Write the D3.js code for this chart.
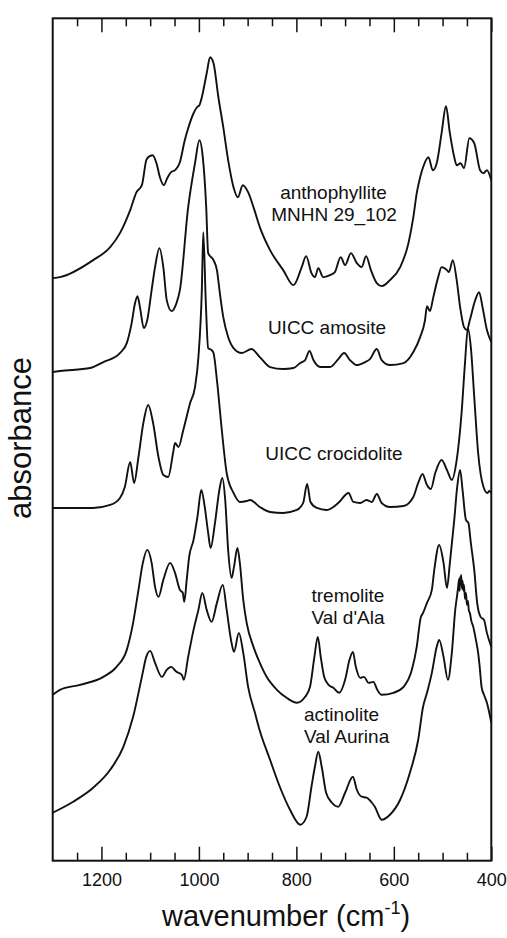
<!DOCTYPE html>
<html>
<head>
<meta charset="utf-8">
<script src="https://cdn.jsdelivr.net/npm/d3@7"></script>
<style>
  html, body { margin: 0; padding: 0; background: #fff; }
  svg { display: block; }
  text { font-family: "Liberation Sans", Arial, sans-serif; fill: #111; }
</style>
</head>
<body>
<svg id="chart" width="507" height="938"></svg>
<script>
// ---- data: [wavenumber (cm-1), absorbance (offset, arbitrary units)] ----
const anthophyllite = [
  [1300,5.83],[1285,5.84],[1217,6.01],[1182,6.14],[1162,6.28],[1141,6.51],[1128,6.69],[1117,6.76],
  [1108,7.01],[1104,7.04],[1095,7.06],[1087,6.98],[1080,6.84],[1072,6.76],[1065,6.83],[1057,6.89],
  [1049,6.91],[1039,6.99],[1029,7.21],[1022,7.33],[1011,7.48],[1004,7.54],[999,7.56],[994,7.64],
  [984,7.88],[977,8.04],[970,7.98],[960,7.64],[950,7.34],[940,7.01],[929,6.74],[920,6.64],
  [910,6.76],[899,6.69],[888,6.54],[875,6.34],[854,6.11],[827,5.91],[806,5.76],[789,5.94],
  [780,6.05],[769,5.88],[762,5.84],[755,5.93],[745,5.84],[731,5.86],[721,5.89],[709,6.04],
  [700,5.96],[688,6.08],[676,5.98],[666,5.94],[657,6.05],[647,5.91],[635,5.78],[625,5.75],
  [608,5.81],[587,5.94],[570,6.18],[560,6.44],[553,6.68],[546,6.84],[540,6.94],[529,7.04],
  [520,6.91],[512,6.98],[502,7.28],[493,7.55],[485,7.28],[476,7.04],[471,6.96],[463,6.98],
  [456,6.93],[445,7.23],[435,7.18],[423,6.91],[416,6.88],[409,6.91],[400,6.81]
];
const amosite = [
  [1300,4.89],[1285,4.90],[1223,4.93],[1196,4.99],[1162,5.08],[1148,5.18],[1138,5.38],[1131,5.58],
  [1126,5.65],[1121,5.54],[1113,5.33],[1106,5.41],[1097,5.71],[1090,5.94],[1081,6.13],[1073,5.94],
  [1066,5.61],[1056,5.50],[1046,5.58],[1039,5.71],[1022,6.54],[1008,6.98],[999,7.21],[992,7.04],
  [985,6.54],[981,6.08],[970,6.01],[963,5.91],[957,5.68],[950,5.44],[940,5.24],[929,5.13],
  [912,5.08],[892,5.12],[875,5.04],[854,4.94],[827,4.92],[806,4.93],[792,4.98],[782,5.01],
  [773,5.10],[765,5.01],[751,4.94],[731,4.94],[714,5.02],[702,5.08],[690,5.01],[676,4.96],
  [659,4.99],[649,5.02],[635,5.12],[625,5.01],[608,4.96],[580,4.98],[560,5.09],[546,5.24],
  [536,5.41],[532,5.55],[526,5.50],[519,5.64],[509,5.84],[502,5.94],[491,5.91],[487,5.89],
  [479,6.01],[471,5.81],[464,5.54],[456,5.34],[450,5.31],[444,5.41],[433,5.61],[425,5.69],
  [418,5.54],[409,5.31],[400,5.19]
];
const crocidolite = [
  [1300,3.53],[1217,3.53],[1182,3.56],[1162,3.63],[1152,3.74],[1141,3.99],[1133,3.78],[1124,4.04],
  [1114,4.38],[1104,4.56],[1094,4.38],[1083,4.04],[1073,3.86],[1063,3.84],[1053,4.08],[1049,4.18],
  [1042,4.14],[1032,4.31],[1018,4.58],[1008,4.74],[1001,5.04],[994,5.71],[991,6.29],[986,5.61],
  [981,5.13],[974,5.11],[970,5.08],[963,4.81],[953,4.31],[943,3.88],[929,3.68],[916,3.59],
  [902,3.60],[895,3.61],[875,3.54],[854,3.49],[827,3.48],[799,3.51],[786,3.58],[778,3.77],
  [771,3.59],[758,3.53],[738,3.51],[724,3.54],[712,3.59],[693,3.68],[683,3.59],[669,3.58],
  [656,3.61],[645,3.59],[635,3.67],[625,3.58],[608,3.54],[580,3.55],[560,3.64],[550,3.78],
  [541,3.87],[533,3.77],[524,3.72],[515,3.88],[502,4.01],[491,3.91],[481,3.81],[471,4.01],
  [461,4.48],[454,4.98],[448,5.33],[442,5.14],[435,4.64],[427,4.08],[416,3.74],[408,3.68],
  [404,3.70],[400,3.68]
];
const tremolite = [
  [1300,1.66],[1285,1.71],[1244,1.76],[1196,1.84],[1169,1.94],[1148,2.11],[1135,2.38],[1124,2.71],
  [1115,2.98],[1106,3.11],[1097,2.98],[1090,2.74],[1083,2.64],[1073,2.81],[1059,2.98],[1049,2.88],
  [1039,2.71],[1033,2.68],[1030,2.59],[1025,2.81],[1020,3.04],[1011,3.21],[1003,3.44],[995,3.71],
  [988,3.54],[981,3.28],[976,3.13],[967,3.38],[958,3.71],[952,3.83],[946,3.61],[940,3.11],
  [933,2.83],[928,2.94],[921,3.13],[916,2.98],[909,2.61],[902,2.38],[888,2.14],[875,1.98],
  [861,1.84],[840,1.71],[820,1.63],[799,1.58],[782,1.64],[772,1.74],[763,2.04],[756,2.24],
  [750,2.04],[743,1.84],[734,1.76],[724,1.73],[712,1.68],[700,1.81],[691,2.01],[684,2.09],
  [678,1.94],[669,1.83],[661,1.84],[652,1.78],[642,1.79],[634,1.71],[625,1.66],[601,1.68],
  [580,1.74],[563,1.91],[553,2.14],[545,2.43],[540,2.48],[532,2.58],[522,2.71],[517,2.91],
  [507,3.16],[498,2.98],[491,2.73],[485,2.98],[476,3.41],[470,3.74],[464,3.91],[459,3.71],
  [452,3.41],[447,3.38],[442,3.18],[435,2.91],[429,2.58],[422,2.44],[415,2.41],[409,2.28],
  [400,2.14]
];
const actinolite = [
  [1300,0.48],[1258,0.59],[1217,0.73],[1182,0.91],[1155,1.14],[1135,1.44],[1117,1.84],[1108,2.04],
  [1100,2.10],[1090,1.98],[1076,1.84],[1066,1.91],[1057,1.94],[1046,1.89],[1035,1.86],[1031,1.81],
  [1022,2.04],[1011,2.31],[1001,2.51],[993,2.68],[984,2.51],[974,2.39],[963,2.58],[951,2.76],
  [943,2.51],[933,2.18],[928,2.09],[918,2.28],[909,2.08],[899,1.74],[885,1.48],[875,1.30],
  [854,1.01],[834,0.74],[813,0.51],[792,0.36],[779,0.44],[769,0.74],[762,0.94],[755,1.09],
  [748,0.94],[739,0.68],[727,0.58],[714,0.54],[700,0.68],[684,0.84],[676,0.71],[666,0.64],
  [656,0.63],[645,0.58],[639,0.54],[625,0.41],[608,0.46],[587,0.61],[567,0.88],[550,1.21],
  [540,1.54],[532,1.68],[522,1.88],[512,2.14],[507,2.21],[498,2.04],[489,1.81],[481,2.08],
  [474,2.51],[470,2.66],[468,2.74],[466,2.82],[465,2.70],[464,2.84],[463,2.76],[462,2.86],
  [460,2.72],[459,2.80],[457,2.70],[456,2.76],[454,2.62],[452,2.68],[450,2.56],[448,2.60],
  [446,2.50],[444,2.48],[441,2.40],[437,2.34],[432,2.22],[427,2.08],[424,1.95],[420,1.74],
  [415,1.66],[409,1.58],[400,1.38]
];
const seriesList = [anthophyllite, amosite, crocidolite, tremolite, actinolite];
const majorTicks = [1200, 1000, 800, 600, 400];
const minorTicks = [1250, 1150, 1100, 1050, 950, 900, 850, 750, 700, 650, 550, 500, 450];
const xDomain = [1300, 400];
const yDomain = [0, 8.43];

// ---- drawing ----
const svg = d3.select("#chart");
const L = 52.7, R = 491.3, T = 18.3, B = 860.7;
const x = d3.scaleLinear().domain(xDomain).range([L, R]);
const y = d3.scaleLinear().domain(yDomain).range([B, T]);

const line = d3.line()
  .x(d => x(d[0]))
  .y(d => y(d[1]))
  .curve(d3.curveMonotoneX);

svg.append("g").selectAll("path")
  .data(seriesList)
  .join("path")
  .attr("d", line)
  .attr("fill", "none")
  .attr("stroke", "#111")
  .attr("stroke-width", 1.9)
  .attr("stroke-linejoin", "round");

// bottom axis (major, inward ticks with labels)
const gB = svg.append("g").attr("transform", `translate(0,${B})`)
  .call(d3.axisBottom(x).tickValues(majorTicks).tickSizeInner(-14).tickSizeOuter(0).tickPadding(13).tickFormat(d3.format("d")));
gB.selectAll("text").style("font-size", "18px").attr("fill", "#111");
svg.append("g").attr("transform", `translate(0,${B})`)
  .call(d3.axisBottom(x).tickValues(minorTicks).tickSizeInner(-8).tickSizeOuter(0).tickFormat(""));
// top axis
svg.append("g").attr("transform", `translate(0,${T})`)
  .call(d3.axisTop(x).tickValues(majorTicks).tickSizeInner(-14).tickSizeOuter(0).tickFormat(""));
svg.append("g").attr("transform", `translate(0,${T})`)
  .call(d3.axisTop(x).tickValues(minorTicks).tickSizeInner(-8).tickSizeOuter(0).tickFormat(""));
svg.selectAll(".domain").remove();
svg.selectAll(".tick line").attr("stroke", "#111").attr("stroke-width", 1.5);

// frame
svg.append("rect").attr("x", L).attr("y", T).attr("width", R - L).attr("height", B - T)
  .attr("fill", "none").attr("stroke", "#111").attr("stroke-width", 2);

// series labels
const labelFont = "19px";
const lbl = (txt, px, py, anchor) => svg.append("text").attr("x", px).attr("y", py)
  .attr("text-anchor", anchor).style("font-size", labelFont).text(txt);
lbl("anthophyllite", 333.5, 199, "middle");
lbl("MNHN 29_102", 334, 221, "middle");
lbl("UICC amosite", 327, 334, "middle");
lbl("UICC crocidolite", 334, 460, "middle");
lbl("tremolite", 311.5, 602, "start");
lbl("Val d'Ala", 311.5, 624, "start");
lbl("actinolite", 304, 721, "start");
lbl("Val Aurina", 304, 743, "start");

// axis titles
const xt = svg.append("text").attr("x", 162).attr("y", 926).attr("text-anchor", "start").style("font-size", "29px");
xt.append("tspan").text("wavenumber (cm");
xt.append("tspan").attr("dy", -12).style("font-size", "18px").text("-1");
xt.append("tspan").attr("dy", 12).text(")");

svg.append("text").attr("transform", "translate(31,438) rotate(-90)")
  .attr("text-anchor", "middle").style("font-size", "31px").text("absorbance");
</script>
</body>
</html>
